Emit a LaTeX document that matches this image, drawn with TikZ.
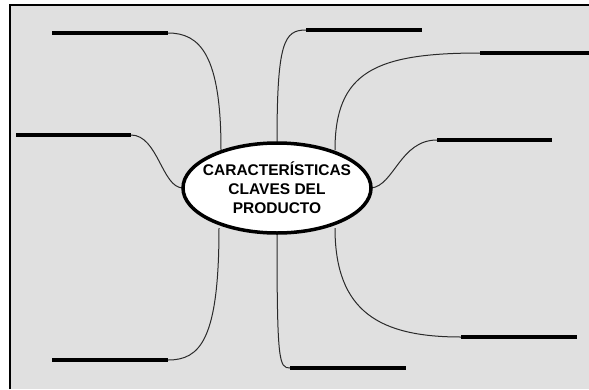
\documentclass[tikz,border=0pt]{standalone}
\usepackage{fontspec}
\setmainfont{Liberation Sans}
\usetikzlibrary{shapes.geometric}
\definecolor{bggray}{HTML}{E0E0E0}
\definecolor{linkgray}{HTML}{2A2A2A}
\tikzset{
  bar/.style={line width=4pt, black},
  link/.style={line width=1pt, linkgray},
  hub/.style={ellipse, draw=black, line width=3.5pt, fill=white, minimum width=188pt, minimum height=90pt, inner sep=0pt},
  hubtext/.style={inner sep=0pt, align=center, font=\bfseries\fontsize{15.5}{19}\selectfont}
}
\begin{document}
\begin{tikzpicture}[x=1pt,y=-1pt]
\useasboundingbox (0,0) rectangle (589,389);
\fill[bggray] (10,5) rectangle (589,389);
\draw[line width=1.5pt] (10,389) -- (10,5) -- (589,5);
% bar end coordinates
\coordinate (tlA) at (52,33);   \coordinate (tlB) at (168,33);
\coordinate (lmA) at (16,135);  \coordinate (lmB) at (131,135);
\coordinate (tcA) at (306,30);  \coordinate (tcB) at (422,30);
\coordinate (trA) at (480,53);  \coordinate (trB) at (589,53);
\coordinate (rmA) at (437,140); \coordinate (rmB) at (552,140);
\coordinate (blA) at (52,360);  \coordinate (blB) at (168,360);
\coordinate (bcA) at (290,368); \coordinate (bcB) at (406,368);
\coordinate (brA) at (461,337); \coordinate (brB) at (577,337);
% links
\draw[link] (221,150) .. controls (221,55) and (200,33) .. (tlB);
\draw[link] (183,188) .. controls (162,188) and (158,135) .. (lmB);
\draw[link] (277,143) .. controls (277,42) and (284,30) .. (tcA);
\draw[link] (335,150) .. controls (335,72) and (375,53) .. (trA);
\draw[link] (371,188) .. controls (394,186) and (400,140) .. (rmA);
\draw[link] (219,228) .. controls (219,340) and (200,360) .. (blB);
\draw[link] (277,233) .. controls (277,362) and (279,368) .. (bcA);
\draw[link] (335,228) .. controls (335,312) and (380,337) .. (brA);
% hub
\node[hub] (c) at (277,188) {};
\node[hubtext] (t) at (c.center) {CARACTERÍSTICAS\\CLAVES DEL\\PRODUCTO};
% bars
\draw[bar] (tlA) -- (tlB);
\draw[bar] (lmA) -- (lmB);
\draw[bar] (tcA) -- (tcB);
\draw[bar] (trA) -- (trB);
\draw[bar] (rmA) -- (rmB);
\draw[bar] (blA) -- (blB);
\draw[bar] (bcA) -- (bcB);
\draw[bar] (brA) -- (brB);
\end{tikzpicture}
\end{document}
